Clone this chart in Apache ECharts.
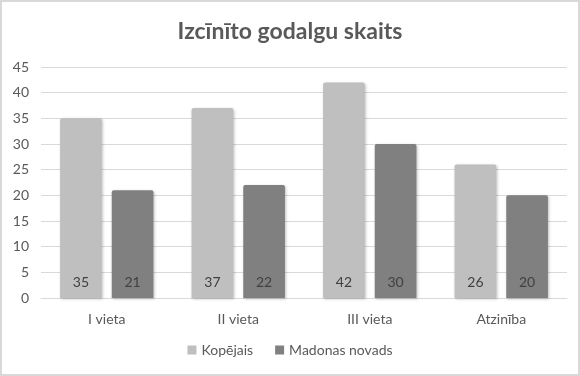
<!DOCTYPE html>
<html>
<head>
<meta charset="utf-8">
<script src="https://cdn.jsdelivr.net/npm/echarts@6/dist/echarts.min.js"></script>
<style>
html, body { margin: 0; padding: 0; background: #fff; }
#chart { width: 580px; height: 376px; box-sizing: border-box; border: 2px solid #d9d9d9; }
</style>
</head>
<body>
<div id="chart"></div>
<script>
// dati
var categories = ['I vieta', 'II vieta', 'III vieta', 'Atzinība'];
var kopejais = [35, 37, 42, 26];
var madonas = [21, 22, 30, 20];

var myChart = echarts.init(document.getElementById('chart'));

var labelStyle = {
    show: true,
    position: 'insideBottom',
    distance: 9,
    color: '#404040',
    fontSize: 14,
    fontFamily: 'Lato'
};

var option = {
    animation: false,
    textStyle: { fontFamily: 'Lato', color: '#595959' },
    title: {
        text: 'Izcīnīto godalgu skaits',
        left: 'center',
        top: 13,
        textStyle: { fontSize: 23, fontWeight: 'bold', color: '#595959', fontFamily: 'Lato' }
    },
    legend: {
        bottom: 12,
        itemWidth: 9,
        itemHeight: 9,
        itemGap: 22,
        icon: 'rect',
        textStyle: { fontSize: 14, color: '#595959' },
        data: ['Kopējais', 'Madonas novads']
    },
    grid: { left: 39, right: 11, top: 65, bottom: 76 },
    xAxis: {
        type: 'category',
        data: categories,
        axisTick: { show: false },
        axisLine: { lineStyle: { color: '#d9d9d9' } },
        axisLabel: { color: '#595959', fontSize: 14, margin: 14 }
    },
    yAxis: {
        type: 'value',
        min: 0,
        max: 45,
        interval: 5,
        axisLine: { show: false },
        axisTick: { show: false },
        splitLine: { lineStyle: { color: '#d9d9d9' } },
        axisLabel: { color: '#595959', fontSize: 14, margin: 12 }
    },
    series: [
        {
            name: 'Kopējais',
            type: 'bar',
            data: kopejais,
            barGap: '24%',
            barCategoryGap: '29%',
            itemStyle: {
                color: '#bfbfbf',
                borderRadius: [2, 2, 0, 0],
                shadowBlur: 3,
                shadowColor: 'rgba(0,0,0,0.25)',
                shadowOffsetX: 1,
                shadowOffsetY: 1
            },
            label: labelStyle
        },
        {
            name: 'Madonas novads',
            type: 'bar',
            data: madonas,
            itemStyle: {
                color: '#808080',
                borderRadius: [2, 2, 0, 0],
                shadowBlur: 3,
                shadowColor: 'rgba(0,0,0,0.25)',
                shadowOffsetX: 1,
                shadowOffsetY: 1
            },
            label: labelStyle
        }
    ]
};

myChart.setOption(option);

window.onresize = function () {
    myChart.resize();
};
</script>
</body>
</html>
